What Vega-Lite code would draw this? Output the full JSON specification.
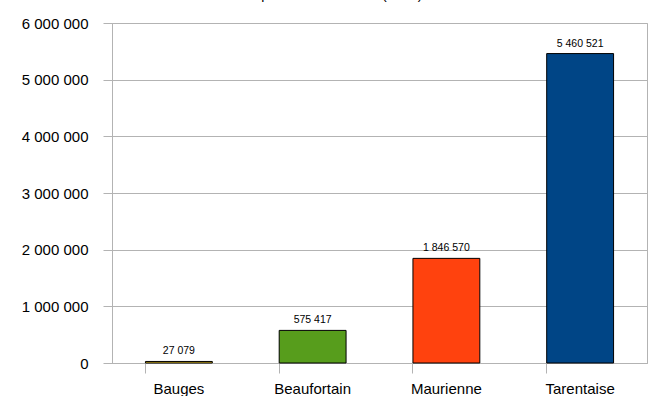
{
  "$schema": "https://vega.github.io/schema/vega-lite/v6.json",
  "width": 535,
  "height": 340,
  "autosize": {"type": "none"},
  "padding": {"left": 112, "top": 23, "right": 7, "bottom": 33},
  "background": "white",
  "title": {
    "text": "Occupation des stations (2010)",
    "anchor": "middle",
    "dx": -54,
    "dy": 3,
    "offset": 6,
    "baseline": "alphabetic",
    "font": "Liberation Sans",
    "fontSize": 14,
    "fontWeight": "normal",
    "color": "black"
  },
  "data": {
    "values": [
      {"vallee": "Bauges", "valeur": 27079},
      {"vallee": "Beaufortain", "valeur": 575417},
      {"vallee": "Maurienne", "valeur": 1846570},
      {"vallee": "Tarentaise", "valeur": 5460521}
    ]
  },
  "encoding": {
    "x": {
      "field": "vallee",
      "type": "nominal",
      "sort": null,
      "scale": {"paddingInner": 0.5, "paddingOuter": 0.25},
      "axis": {
        "title": null,
        "labelAngle": 0,
        "bandPosition": 0,
        "tickSize": 10,
        "labelPadding": 20,
        "labelBaseline": "alphabetic",
        "labelFont": "Liberation Sans",
        "labelFontSize": 15,
        "labelColor": "black",
        "domainColor": "#b3b3b3",
        "tickColor": "#b3b3b3",
        "grid": false
      }
    },
    "y": {
      "field": "valeur",
      "type": "quantitative",
      "scale": {"domain": [0, 6000000], "nice": false},
      "axis": {
        "title": null,
        "values": [0, 1000000, 2000000, 3000000, 4000000, 5000000, 6000000],
        "format": ",d",
        "grid": true,
        "gridColor": "#b3b3b3",
        "domainColor": "#b3b3b3",
        "tickColor": "#b3b3b3",
        "tickSize": 9,
        "labelPadding": 15,
        "labelFont": "Liberation Sans",
        "labelFontSize": 15,
        "labelColor": "black"
      }
    }
  },
  "layer": [
    {
      "mark": {"type": "bar", "stroke": "black", "strokeWidth": 1},
      "encoding": {
        "color": {
          "field": "vallee",
          "type": "nominal",
          "scale": {
            "domain": ["Bauges", "Beaufortain", "Maurienne", "Tarentaise"],
            "range": ["#ffd320", "#579d1c", "#ff420e", "#004586"]
          },
          "legend": null
        }
      }
    },
    {
      "mark": {
        "type": "text",
        "baseline": "alphabetic",
        "dy": -7,
        "font": "Liberation Sans",
        "fontSize": 10.5,
        "color": "black"
      },
      "encoding": {
        "text": {"field": "valeur", "type": "quantitative", "format": ",d"}
      }
    }
  ],
  "config": {
    "locale": {
      "number": {"decimal": ",", "thousands": " ", "grouping": [3], "currency": ["", " €"]}
    },
    "view": {"stroke": "#b3b3b3"}
  }
}
